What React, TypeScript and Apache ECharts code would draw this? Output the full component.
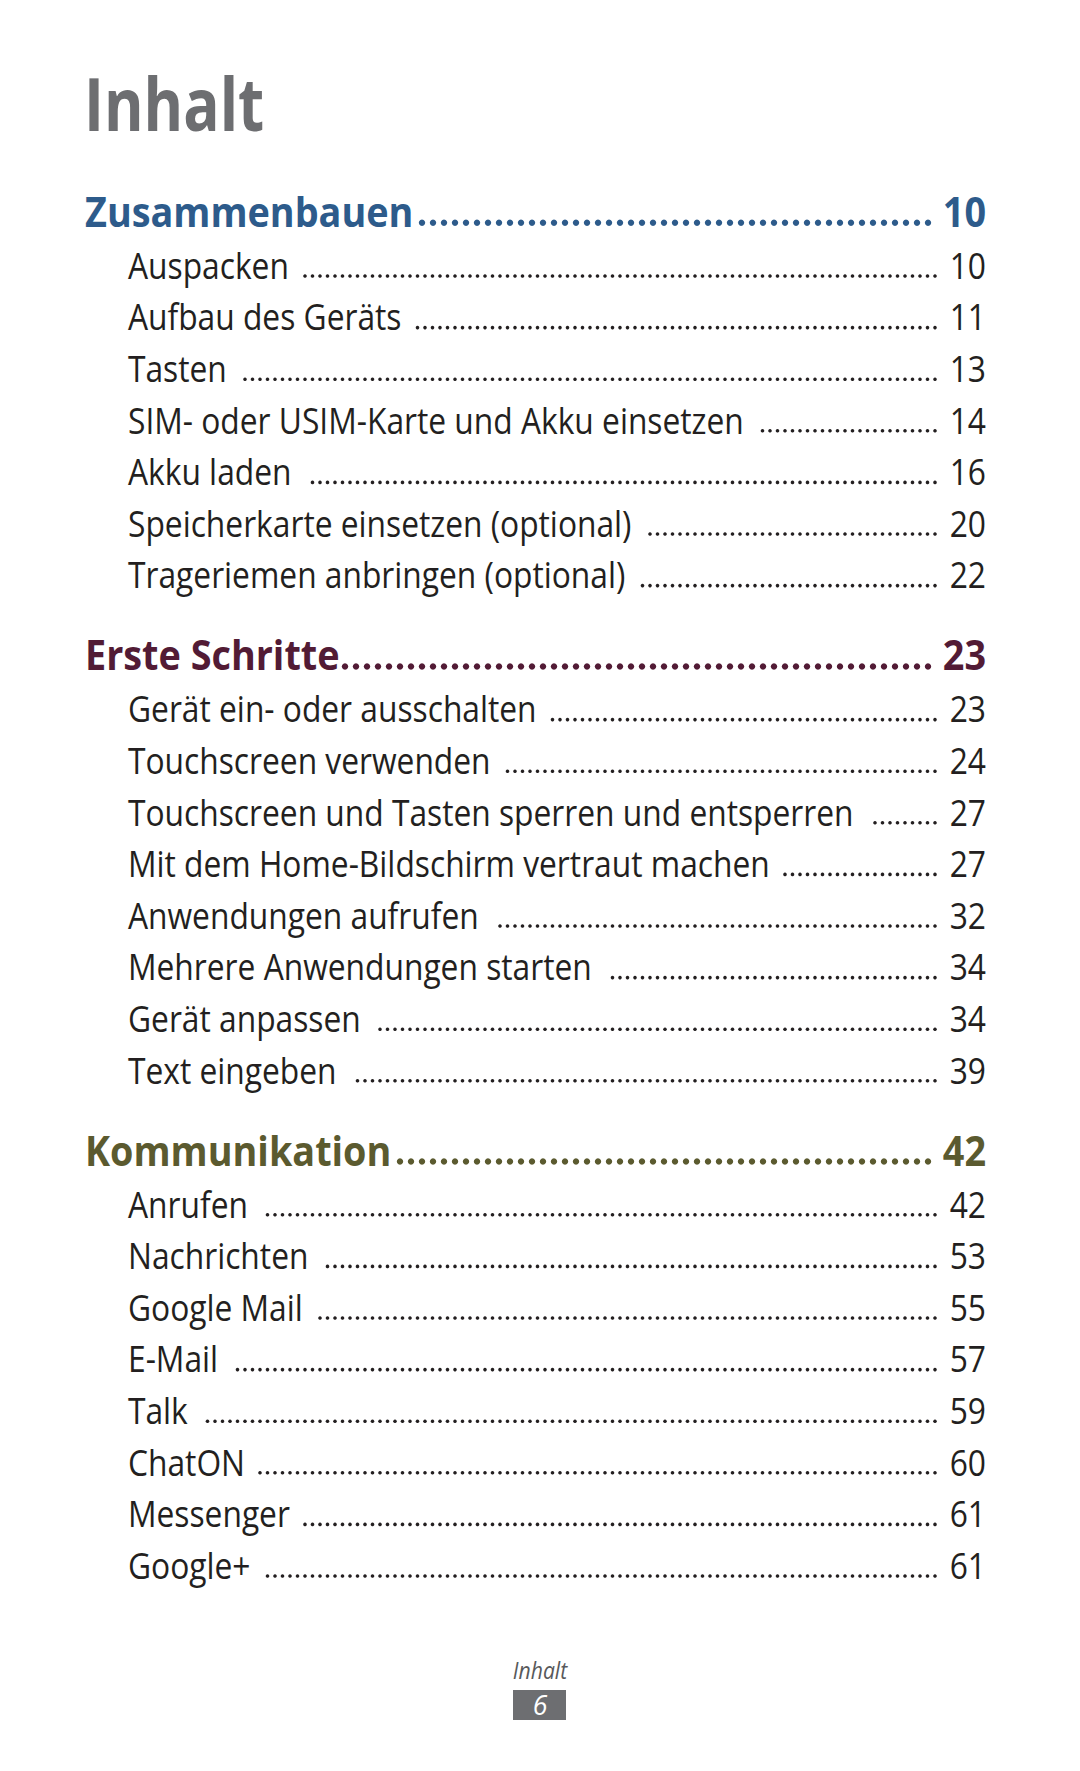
import React, { useEffect, useRef } from 'react';
import * as echarts from 'echarts';

// ---- content ----
const pageTitle = 'Inhalt';
const sectionTitles = ['Zusammenbauen', 'Erste Schritte', 'Kommunikation'];
const sectionPages = ['10', '23', '42'];
const sectionColors = ['#2d5b8b', '#521b35', '#5b5a2f'];

const zusammenbauenItems = [
  'Auspacken',
  'Aufbau des Geräts',
  'Tasten',
  'SIM- oder USIM-Karte und Akku einsetzen',
  'Akku laden',
  'Speicherkarte einsetzen (optional)',
  'Trageriemen anbringen (optional)',
];
const zusammenbauenPages = ['10', '11', '13', '14', '16', '20', '22'];

const ersteSchritteItems = [
  'Gerät ein- oder ausschalten',
  'Touchscreen verwenden',
  'Touchscreen und Tasten sperren und entsperren',
  'Mit dem Home-Bildschirm vertraut machen',
  'Anwendungen aufrufen',
  'Mehrere Anwendungen starten',
  'Gerät anpassen',
  'Text eingeben',
];
const ersteSchrittePages = ['23', '24', '27', '27', '32', '34', '34', '39'];

const kommunikationItems = [
  'Anrufen',
  'Nachrichten',
  'Google Mail',
  'E-Mail',
  'Talk',
  'ChatON',
  'Messenger',
  'Google+',
];
const kommunikationPages = ['42', '53', '55', '57', '59', '60', '61', '61'];

const footerLabel = 'Inhalt';
const footerPage = '6';

// ---- layout ----
const FONT = '"Open Sans", "Noto Sans", sans-serif';
const W = 1080;
const H = 1771;
const CENTRAL = 0.37;
const ITEM_FS = 36.5;
const ITEM_SX = 0.87;
const HEAD_FS = 42;
const HEAD_SX = 0.9;
const TEXT_COLOR = '#231f20';

const App: React.FC = () => {
  const ref = useRef<HTMLDivElement>(null);

  useEffect(() => {
    if (!ref.current) return;
    const chart = echarts.init(ref.current, undefined, { renderer: 'svg' });
    const ctx = document.createElement('canvas').getContext('2d')!;
    const measure = (t: string, weight: string, fs: number) => {
      ctx.font = `${weight} ${fs}px ${FONT}`;
      return ctx.measureText(t).width;
    };

    const sections = [
      { items: zusammenbauenItems, pages: zusammenbauenPages },
      { items: ersteSchritteItems, pages: ersteSchrittePages },
      { items: kommunikationItems, pages: kommunikationPages },
    ];

    const els: any[] = [];
    const text = (
      t: string, x: number, baseline: number, fs: number, sx: number,
      color: string, weight: string, align: string, style = 'normal'
    ) => {
      els.push({
        type: 'text', x, y: baseline - CENTRAL * fs, scaleX: sx, silent: true,
        style: {
          text: t, fill: color, fontSize: fs, fontFamily: FONT, fontWeight: weight, fontStyle: style,
          align, verticalAlign: 'middle', textAlign: align, textVerticalAlign: 'middle',
        },
      });
    };
    const dots = (fromX: number, toX: number, y: number, r: number, step: number, color: string) => {
      for (let cx = toX; cx - r >= fromX; cx -= step) {
        els.push({ type: 'circle', silent: true, shape: { cx, cy: y, r }, style: { fill: color } });
      }
    };

    // title
    text(pageTitle, 84, 130, 74, 0.815, '#6d6e71', 'bold', 'left');

    const LEFT_HEAD = 85;
    const LEFT_ITEM = 128;
    const RIGHT = 986;
    let baseline = 223.5;
    sections.forEach((sec, si) => {
      const col = sectionColors[si];
      const hb = baseline + 2.5;
      text(sectionTitles[si], LEFT_HEAD, hb, HEAD_FS, HEAD_SX, col, 'bold', 'left');
      text(sectionPages[si], RIGHT, hb, HEAD_FS, HEAD_SX, col, 'bold', 'right');
      const hw = measure(sectionTitles[si], 'bold', HEAD_FS) * HEAD_SX;
      dots(LEFT_HEAD + hw + 2, 928, hb - 3.2, 3.2, 11, col);
      baseline += 54.5;
      sec.items.forEach((it, i) => {
        text(it, LEFT_ITEM, baseline, ITEM_FS, ITEM_SX, TEXT_COLOR, 'normal', 'left');
        text(sec.pages[i], RIGHT, baseline, ITEM_FS, ITEM_SX, TEXT_COLOR, 'normal', 'right');
        const w = measure(it, 'normal', ITEM_FS) * ITEM_SX;
        dots(LEFT_ITEM + w + 12, 935, baseline - 2, 1.8, 7.5, TEXT_COLOR);
        if (i < sec.items.length - 1) baseline += 51.6;
      });
      baseline += 79.5;
    });

    // footer
    text(footerLabel, 540, 1678, 23, 0.92, '#58595b', 'normal', 'center', 'italic');
    els.push({ type: 'rect', silent: true, shape: { x: 513, y: 1690, width: 53, height: 30 }, style: { fill: '#6d6e71' } });
    text(footerPage, 540, 1715, 28, 0.95, '#ffffff', 'normal', 'center', 'italic');

    chart.setOption({ animation: false, graphic: { elements: els } });
    return () => chart.dispose();
  }, []);

  return (
    <div
      ref={ref}
      style={{ position: 'absolute', left: 0, top: 0, width: W, height: H, background: '#ffffff' }}
    />
  );
};

export default App;
